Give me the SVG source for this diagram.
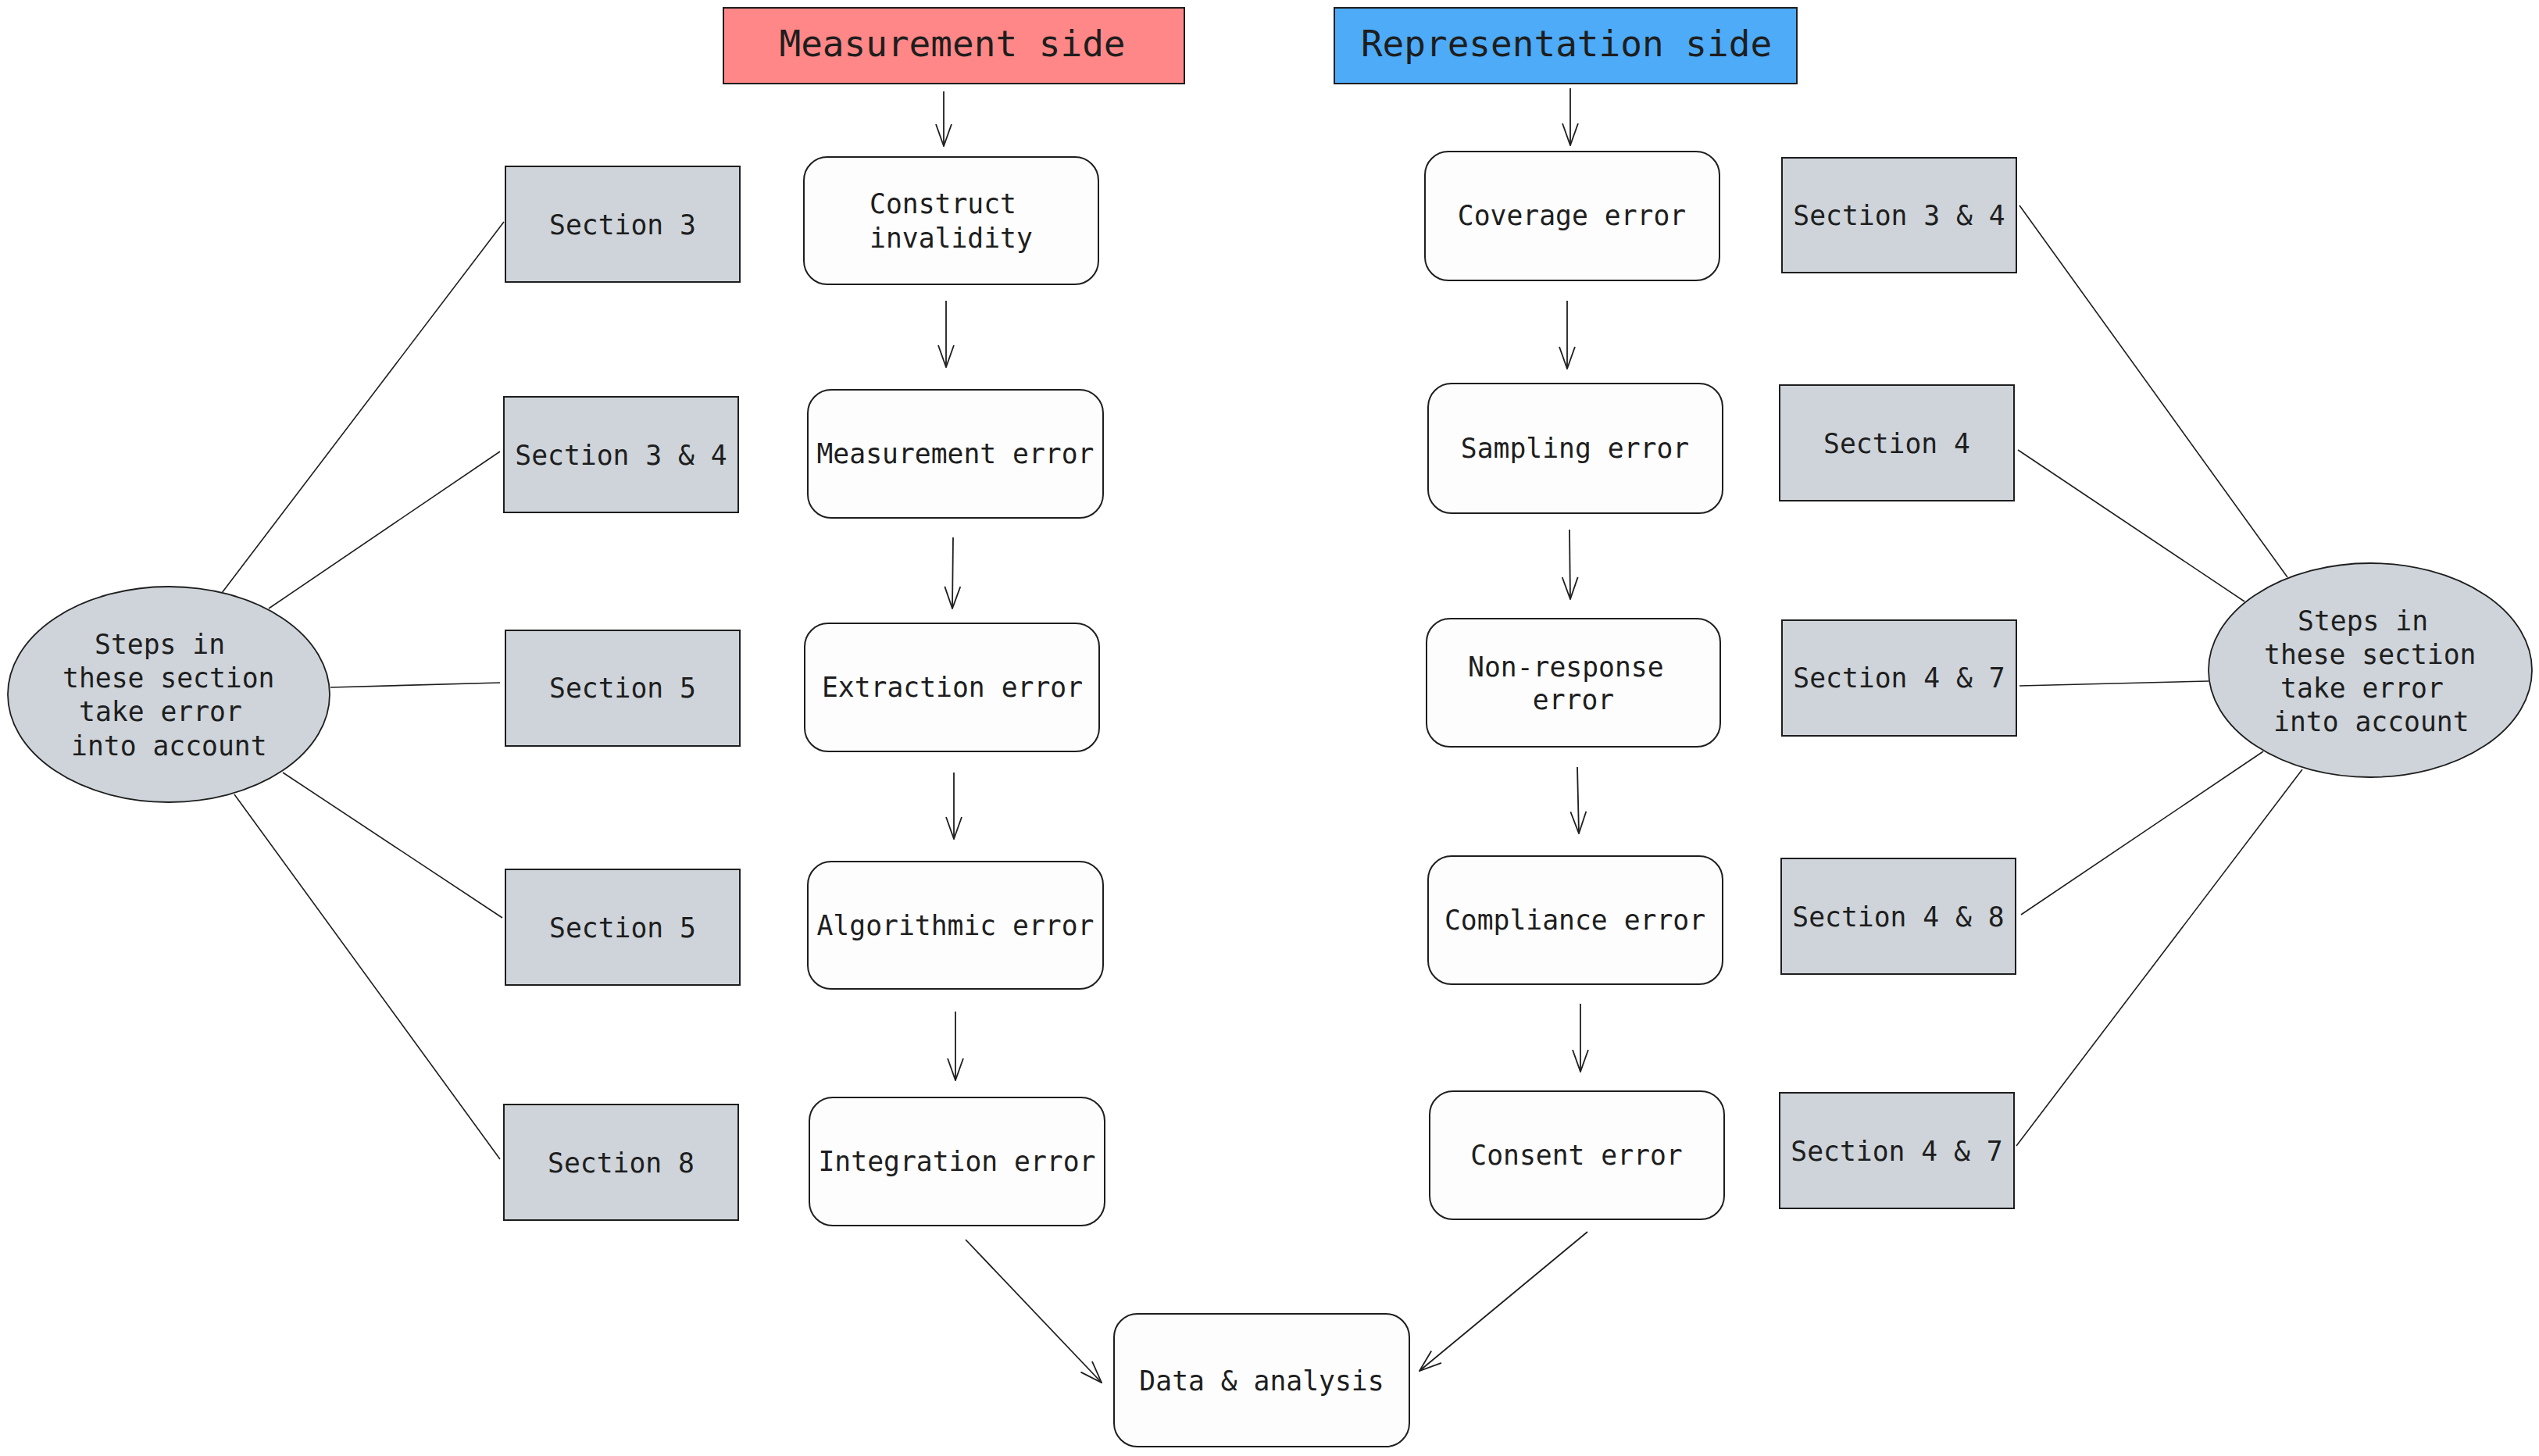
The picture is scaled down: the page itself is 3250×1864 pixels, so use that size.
<svg xmlns="http://www.w3.org/2000/svg" width="3250" height="1864" viewBox="0 0 3250 1864">
<style>
.sec{fill:#ced4da;stroke:#1e1e1e;stroke-width:2}
.box{fill:#fdfdfd;stroke:#1e1e1e;stroke-width:2}
.ell{fill:#ced4da;stroke:#1e1e1e;stroke-width:1.8}
.t{font-family:"DejaVu Sans Mono","Liberation Mono",monospace;font-size:34.7px;fill:#1e1e1e}
.tm{text-anchor:middle}
.h{font-family:"DejaVu Sans Mono","Liberation Mono",monospace;font-size:46px;fill:#1e1e1e;text-anchor:middle}
.ln{stroke:#1e1e1e;stroke-width:1.6;fill:none}
.ar{stroke:#1e1e1e;stroke-width:1.8;fill:none;marker-end:url(#ah)}
</style>
<defs>
<marker id="ah" viewBox="0 0 30 22" refX="29" refY="11" markerWidth="30" markerHeight="22" markerUnits="userSpaceOnUse" orient="auto">
<path d="M1,1 L29,11 L1,21" fill="none" stroke="#1e1e1e" stroke-width="1.8"/>
</marker>
</defs>
<rect width="3250" height="1864" fill="#ffffff"/>

<g id="connectors">
<line class="ln" x1="284" y1="759" x2="645" y2="284"/>
<line class="ln" x1="344" y1="779" x2="640" y2="578"/>
<line class="ln" x1="423" y1="880" x2="640" y2="874"/>
<line class="ln" x1="362" y1="989" x2="643" y2="1175"/>
<line class="ln" x1="300" y1="1017" x2="640" y2="1484"/>
<line class="ln" x1="2585" y1="263" x2="2928" y2="739"/>
<line class="ln" x1="2583" y1="576" x2="2873" y2="770"/>
<line class="ln" x1="2585" y1="878" x2="2827" y2="872"/>
<line class="ln" x1="2587" y1="1171" x2="2897" y2="962"/>
<line class="ln" x1="2581" y1="1467" x2="2947" y2="985"/>
<line class="ar" x1="1208" y1="117" x2="1208" y2="187"/>
<line class="ar" x1="1211" y1="385" x2="1211" y2="470"/>
<line class="ar" x1="1220" y1="688" x2="1219" y2="779"/>
<line class="ar" x1="1221" y1="989" x2="1221" y2="1074"/>
<line class="ar" x1="1223" y1="1295" x2="1223" y2="1383"/>
<line class="ar" x1="1236" y1="1587" x2="1410" y2="1770"/>
<line class="ar" x1="2010" y1="113" x2="2010" y2="186"/>
<line class="ar" x1="2006" y1="385" x2="2006" y2="472"/>
<line class="ar" x1="2009" y1="678" x2="2010" y2="767"/>
<line class="ar" x1="2019" y1="982" x2="2021" y2="1067"/>
<line class="ar" x1="2023" y1="1285" x2="2023" y2="1372"/>
<line class="ar" x1="2032" y1="1577" x2="1817" y2="1755"/>
</g>

<g id="header-measurement">
<rect x="926" y="10" width="590" height="97" fill="#ff8787" stroke="#1e1e1e" stroke-width="2"/>
<text class="h" x="1219" y="72">Measurement side</text>
</g>
<g id="header-representation">
<rect x="1708" y="10" width="592" height="97" fill="#4dabf7" stroke="#1e1e1e" stroke-width="2"/>
<text class="h" x="2005" y="72">Representation side</text>
</g>

<g id="construct-invalidity">
<rect class="box" x="1029" y="201" width="377" height="163" rx="30"/>
<text class="t" x="1113" y="273">Construct</text>
<text class="t" x="1113" y="317">invalidity</text>
</g>
<g id="measurement-error">
<rect class="box" x="1034" y="499" width="378" height="164" rx="30"/>
<text class="t tm" x="1223" y="593">Measurement error</text>
</g>
<g id="extraction-error">
<rect class="box" x="1030" y="798" width="377" height="164" rx="30"/>
<text class="t tm" x="1219" y="892">Extraction error</text>
</g>
<g id="algorithmic-error">
<rect class="box" x="1034" y="1103" width="378" height="163" rx="30"/>
<text class="t tm" x="1223" y="1197">Algorithmic error</text>
</g>
<g id="integration-error">
<rect class="box" x="1036" y="1405" width="378" height="164" rx="30"/>
<text class="t tm" x="1225" y="1499">Integration error</text>
</g>

<g id="coverage-error">
<rect class="box" x="1824" y="194" width="377" height="165" rx="30"/>
<text class="t tm" x="2012" y="288">Coverage error</text>
</g>
<g id="sampling-error">
<rect class="box" x="1828" y="491" width="377" height="166" rx="30"/>
<text class="t tm" x="2016" y="586">Sampling error</text>
</g>
<g id="non-response-error">
<rect class="box" x="1826" y="792" width="376" height="164" rx="30"/>
<text class="t" x="1879" y="866">Non-response</text>
<text class="t tm" x="2014" y="908">error</text>
</g>
<g id="compliance-error">
<rect class="box" x="1828" y="1096" width="377" height="164" rx="30"/>
<text class="t tm" x="2016" y="1190">Compliance error</text>
</g>
<g id="consent-error">
<rect class="box" x="1830" y="1397" width="377" height="164" rx="30"/>
<text class="t tm" x="2018" y="1491">Consent error</text>
</g>

<g id="data-analysis">
<rect class="box" x="1426" y="1682" width="378" height="170" rx="30"/>
<text class="t tm" x="1615" y="1780">Data &amp; analysis</text>
</g>

<g id="left-section-3">
<rect class="sec" x="647" y="213" width="300" height="148"/>
<text class="t tm" x="797" y="300">Section 3</text>
</g>
<g id="left-section-3-4">
<rect class="sec" x="645" y="508" width="300" height="148"/>
<text class="t tm" x="795" y="595">Section 3 &amp; 4</text>
</g>
<g id="left-section-5a">
<rect class="sec" x="647" y="807" width="300" height="148"/>
<text class="t tm" x="797" y="893">Section 5</text>
</g>
<g id="left-section-5b">
<rect class="sec" x="647" y="1113" width="300" height="148"/>
<text class="t tm" x="797" y="1200">Section 5</text>
</g>
<g id="left-section-8">
<rect class="sec" x="645" y="1414" width="300" height="148"/>
<text class="t tm" x="795" y="1501">Section 8</text>
</g>

<g id="right-section-3-4">
<rect class="sec" x="2281" y="202" width="300" height="147"/>
<text class="t tm" x="2431" y="288">Section 3 &amp; 4</text>
</g>
<g id="right-section-4">
<rect class="sec" x="2278" y="493" width="300" height="148"/>
<text class="t tm" x="2428" y="580">Section 4</text>
</g>
<g id="right-section-4-7a">
<rect class="sec" x="2281" y="794" width="300" height="148"/>
<text class="t tm" x="2431" y="880">Section 4 &amp; 7</text>
</g>
<g id="right-section-4-8">
<rect class="sec" x="2280" y="1099" width="300" height="148"/>
<text class="t tm" x="2430" y="1186">Section 4 &amp; 8</text>
</g>
<g id="right-section-4-7b">
<rect class="sec" x="2278" y="1399" width="300" height="148"/>
<text class="t tm" x="2428" y="1486">Section 4 &amp; 7</text>
</g>

<g id="left-ellipse">
<ellipse class="ell" cx="216" cy="889" rx="206" ry="138"/>
<text class="t" x="121" y="837">Steps in</text>
<text class="t" x="80" y="880">these section</text>
<text class="t" x="101" y="923">take error</text>
<text class="t" x="91" y="967">into account</text>
</g>
<g id="right-ellipse">
<ellipse class="ell" cx="3034" cy="858" rx="207" ry="137"/>
<text class="t" x="2941" y="807">Steps in</text>
<text class="t" x="2898" y="850">these section</text>
<text class="t" x="2919" y="893">take error</text>
<text class="t" x="2910" y="936">into account</text>
</g>
</svg>
